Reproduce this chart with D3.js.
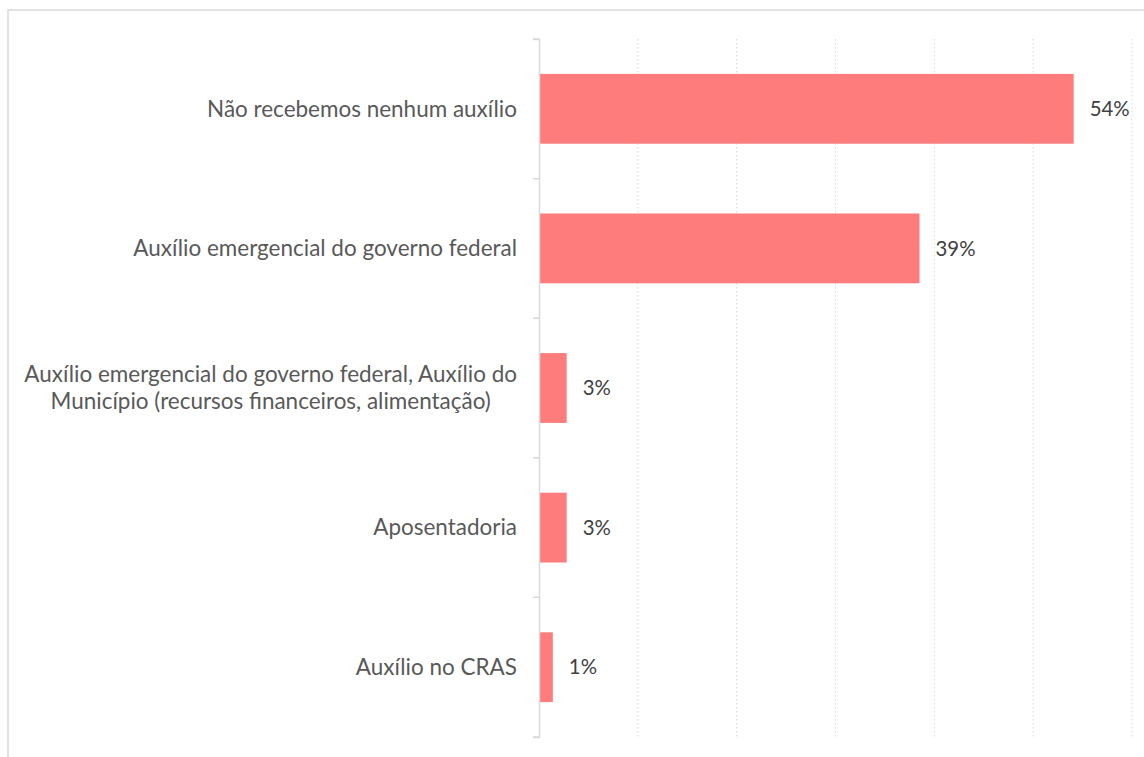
<!DOCTYPE html>
<html><head><meta charset="utf-8">
<script src="https://cdn.jsdelivr.net/npm/d3@7"></script>
<style>body{margin:0;background:#fff;overflow:hidden}</style>
</head><body>
<svg id="c" width="1144" height="757"></svg>
<script>
const categories = [
  ["Não recebemos nenhum auxílio"],
  ["Auxílio emergencial do governo federal"],
  ["Auxílio emergencial do governo federal, Auxílio do", "Município (recursos financeiros, alimentação)"],
  ["Aposentadoria"],
  ["Auxílio no CRAS"]
];
const values = [54.1, 38.5, 2.8, 2.8, 1.4];
const valueLabels = ["54%", "39%", "3%", "3%", "1%"];
const xTicks = [0, 10, 20, 30, 40, 50, 60];

const svg = d3.select("#c");
const font = "Lato, 'Open Sans', sans-serif";

// frame
svg.append("rect").attr("x", 8).attr("y", 10).attr("width", 1160).attr("height", 780)
  .attr("fill", "#fff").attr("stroke", "#d9d9d9").attr("stroke-width", 1.5);

const x = d3.scaleLinear().domain([0, 60]).range([539, 1132]);
const y = d3.scaleBand().domain(d3.range(categories.length)).range([39, 737]).paddingInner(0.5).paddingOuter(0.25);
const yb = d3.scaleBand().domain(d3.range(categories.length)).range([39, 737]);

// gridlines
svg.append("g").selectAll("line").data(xTicks.slice(1)).join("line")
  .attr("x1", d => x(d)).attr("x2", d => x(d)).attr("y1", 39).attr("y2", 737)
  .attr("stroke", "#d9d9d9").attr("stroke-width", 1).attr("stroke-dasharray", "1.5,2.5");

// bars
svg.append("g").selectAll("rect").data(values).join("rect")
  .attr("x", x(0)).attr("y", (d, i) => y(i)).attr("width", d => x(d) - x(0)).attr("height", y.bandwidth())
  .attr("fill", "#ff7c7c");

// y axis
const ax = d3.axisLeft(yb).tickSize(6).tickFormat("").tickSizeOuter(6);
const gAx = svg.append("g").attr("transform", `translate(${x(0)},0)`).call(ax);
gAx.select(".domain").attr("stroke", "#d9d9d9").attr("stroke-width", 1.5);
gAx.selectAll(".tick").remove();
const bounds = d3.range(categories.length + 1).map(i => 39 + i * yb.step());
gAx.selectAll("line.b").data(bounds).join("line").attr("class", "b")
  .attr("x1", -6).attr("x2", 0).attr("y1", d => d).attr("y2", d => d)
  .attr("stroke", "#d9d9d9").attr("stroke-width", 1.5);

// font calibration
const probe = svg.append("text").attr("font-family", font).attr("font-size", 20).text(categories[0][0]);
const w0 = probe.node().getComputedTextLength();
probe.remove();
const catSize = 20 * 310 / w0;
const probe2 = svg.append("text").attr("font-family", font).attr("font-size", 20).text("54%");
const w1 = probe2.node().getComputedTextLength();
probe2.remove();
const valSize = 20 * 40 / w1;

// category labels
const lineH = 27;
categories.forEach((lines, i) => {
  const cy = yb(i) + yb.bandwidth() / 2;
  const g = svg.append("g");
  const ts = lines.map((l, j) => g.append("text").attr("font-family", font).attr("font-size", catSize)
    .attr("fill", "#595959").attr("dy", "0.35em")
    .attr("y", cy + (j - (lines.length - 1) / 2) * lineH).text(l));
  const widths = ts.map(t => t.node().getComputedTextLength());
  const maxW = d3.max(widths);
  const right = 517;
  ts.forEach(t => t.attr("x", right - maxW / 2).attr("text-anchor", "middle"));
});

// value labels
svg.append("g").selectAll("text").data(values).join("text")
  .attr("x", d => x(d) + 16).attr("y", (d, i) => yb(i) + yb.bandwidth() / 2).attr("dy", "0.35em")
  .attr("font-family", font).attr("font-size", valSize).attr("fill", "#404040")
  .text((d, i) => valueLabels[i]);
</script>
</body></html>
